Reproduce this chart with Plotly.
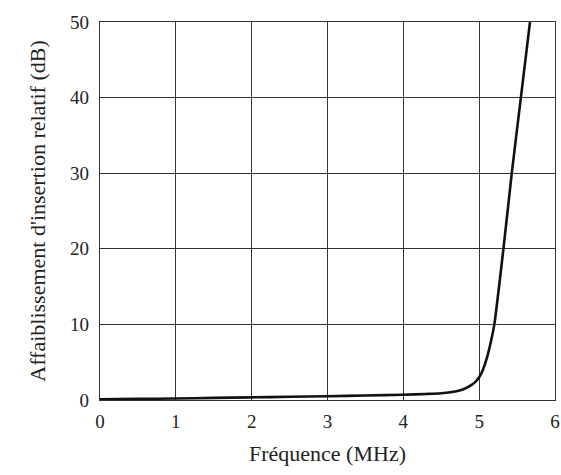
import plotly.graph_objects as go

freq = [0.0, 0.5, 1.0, 1.5, 2.0, 2.5, 3.0, 3.5, 4.0, 4.3, 4.5, 4.7, 4.8, 4.9, 4.95, 5.0, 5.05, 5.1, 5.15, 5.2, 5.32, 5.43, 5.55, 5.67]
att = [0.1, 0.15, 0.2, 0.28, 0.35, 0.42, 0.5, 0.6, 0.7, 0.8, 0.9, 1.15, 1.45, 2.0, 2.4, 3.0, 4.0, 5.5, 7.5, 10.0, 20.0, 30.0, 40.0, 50.0]

x_ticks = [0, 1, 2, 3, 4, 5, 6]
y_ticks = [0, 10, 20, 30, 40, 50]

tick_font = dict(family="Times New Roman", size=19, color="#222222")
title_font = dict(family="Times New Roman", size=22, color="#222222")

fig = go.Figure()
fig.add_trace(go.Scatter(x=freq, y=att, mode="lines",
                         line=dict(color="#111111", width=2.6, shape="spline", smoothing=0.6),
                         showlegend=False))

fig.update_layout(
    width=561, height=475,
    margin=dict(l=100, r=6, t=22, b=75),
    paper_bgcolor="white", plot_bgcolor="white",
    xaxis=dict(range=[0, 6], tickvals=x_ticks, ticks="outside", ticklen=4, tickcolor="rgba(0,0,0,0)",
               showgrid=True, gridcolor="#333333", gridwidth=1.2,
               showline=True, linecolor="#333333", linewidth=1.2, mirror=True, zeroline=False,
               automargin=False, tickfont=tick_font,
               title=dict(text="Fréquence (MHz)", standoff=14, font=title_font)),
    yaxis=dict(range=[0, 50], tickvals=y_ticks, ticks="outside", ticklen=6, tickcolor="rgba(0,0,0,0)",
               showgrid=True, gridcolor="#333333", gridwidth=1.2,
               showline=True, linecolor="#333333", linewidth=1.2, mirror=True, zeroline=False,
               automargin=False, tickfont=tick_font,
               title=dict(text="Affaiblissement d'insertion relatif (dB)", standoff=18, font=title_font)),
)

fig.write_html("out.html")
